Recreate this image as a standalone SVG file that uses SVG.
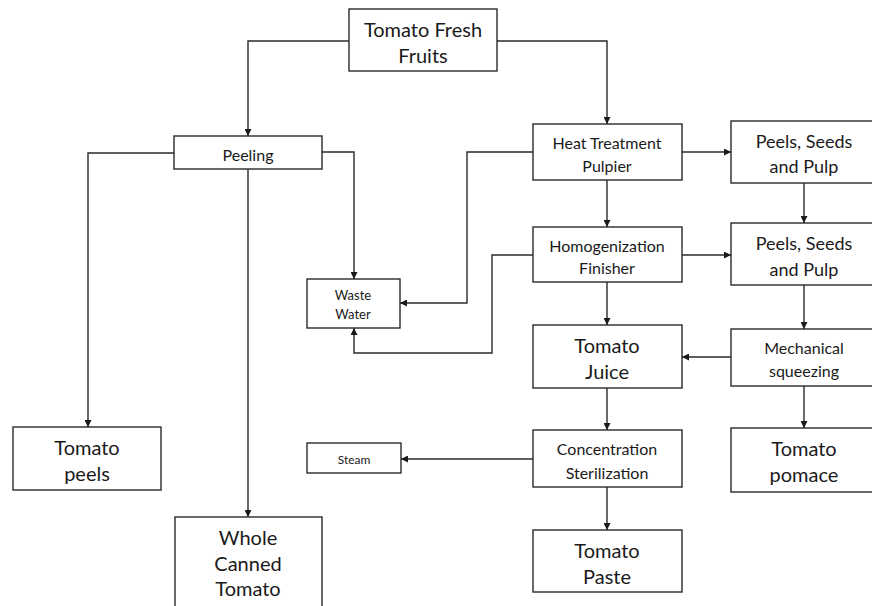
<svg xmlns="http://www.w3.org/2000/svg" width="872" height="606" viewBox="0 0 872 606">
  <defs>
    <style>
      .box { fill: #ffffff; stroke: #2a2a2a; stroke-width: 1.4; }
      .wire { fill: none; stroke: #2a2a2a; stroke-width: 1.4; }
      text { font-family: "Lato", "Open Sans", "Liberation Sans", sans-serif; fill: #1a1a1a; text-anchor: middle; dominant-baseline: central; }
      .xl { font-size: 20px; }
      .lg { font-size: 18px; }
      .md { font-size: 16px; }
      .sm { font-size: 13px; }
      .xs { font-size: 12px; }
    </style>
    <marker id="arrow" viewBox="0 0 10 10" refX="10" refY="5" markerWidth="7" markerHeight="7" markerUnits="userSpaceOnUse" orient="auto">
      <path d="M0,0 L10,5 L0,10 z" fill="#1a1a1a"/>
    </marker>
  </defs>
  <rect width="872" height="606" fill="#ffffff"/>

  <g id="connectors">
    <path class="wire" d="M349,41 H248 V136" marker-end="url(#arrow)"/>
    <path class="wire" d="M497,41 H607 V124" marker-end="url(#arrow)"/>
    <path class="wire" d="M174,153 H88 V427" marker-end="url(#arrow)"/>
    <path class="wire" d="M248,169 V517" marker-end="url(#arrow)"/>
    <path class="wire" d="M322,152 H354 V279" marker-end="url(#arrow)"/>
    <path class="wire" d="M533,152 H467 V303 H400" marker-end="url(#arrow)"/>
    <path class="wire" d="M533,255 H492 V353 H354 V328" marker-end="url(#arrow)"/>
    <path class="wire" d="M682,152 H731" marker-end="url(#arrow)"/>
    <path class="wire" d="M607,180 V227" marker-end="url(#arrow)"/>
    <path class="wire" d="M804,183 V223" marker-end="url(#arrow)"/>
    <path class="wire" d="M682,255 H731" marker-end="url(#arrow)"/>
    <path class="wire" d="M607,282 V325" marker-end="url(#arrow)"/>
    <path class="wire" d="M804,285 V329" marker-end="url(#arrow)"/>
    <path class="wire" d="M731,357 H682" marker-end="url(#arrow)"/>
    <path class="wire" d="M804,386 V428" marker-end="url(#arrow)"/>
    <path class="wire" d="M607,388 V430" marker-end="url(#arrow)"/>
    <path class="wire" d="M533,459 H401" marker-end="url(#arrow)"/>
    <path class="wire" d="M607,487 V530" marker-end="url(#arrow)"/>
  </g>

  <g id="fresh-fruits">
    <rect class="box" x="349" y="9" width="148" height="62"/>
    <text class="xl" x="423" y="29">Tomato Fresh</text>
    <text class="xl" x="423" y="55">Fruits</text>
  </g>

  <g id="peeling">
    <rect class="box" x="174" y="136" width="148" height="33"/>
    <text class="md" x="248" y="154">Peeling</text>
  </g>

  <g id="heat-treatment">
    <rect class="box" x="533" y="124" width="149" height="56"/>
    <text class="md" x="607" y="142">Heat Treatment</text>
    <text class="md" x="607" y="165">Pulpier</text>
  </g>

  <g id="peels-seeds-1">
    <rect class="box" x="731" y="121" width="150" height="62"/>
    <text class="lg" x="804" y="141">Peels, Seeds</text>
    <text class="lg" x="804" y="166">and Pulp</text>
  </g>

  <g id="homogenization">
    <rect class="box" x="533" y="227" width="149" height="55"/>
    <text class="md" x="607" y="245">Homogenization</text>
    <text class="md" x="607" y="267">Finisher</text>
  </g>

  <g id="peels-seeds-2">
    <rect class="box" x="731" y="223" width="150" height="62"/>
    <text class="lg" x="804" y="243">Peels, Seeds</text>
    <text class="lg" x="804" y="269">and Pulp</text>
  </g>

  <g id="waste-water">
    <rect class="box" x="307" y="279" width="93" height="49"/>
    <text class="sm" x="353" y="295">Waste</text>
    <text class="sm" x="353" y="314">Water</text>
  </g>

  <g id="tomato-juice">
    <rect class="box" x="533" y="325" width="149" height="63"/>
    <text class="xl" x="607" y="345">Tomato</text>
    <text class="xl" x="607" y="371">Juice</text>
  </g>

  <g id="mechanical-squeezing">
    <rect class="box" x="731" y="329" width="150" height="57"/>
    <text class="md" x="804" y="347">Mechanical</text>
    <text class="md" x="804" y="370">squeezing</text>
  </g>

  <g id="tomato-peels">
    <rect class="box" x="13" y="427" width="148" height="63"/>
    <text class="xl" x="87" y="447">Tomato</text>
    <text class="xl" x="87" y="473">peels</text>
  </g>

  <g id="steam">
    <rect class="box" x="307" y="443" width="94" height="30"/>
    <text class="xs" x="354" y="459">Steam</text>
  </g>

  <g id="concentration">
    <rect class="box" x="533" y="430" width="149" height="57"/>
    <text class="md" x="607" y="448">Concentration</text>
    <text class="md" x="607" y="472">Sterilization</text>
  </g>

  <g id="tomato-pomace">
    <rect class="box" x="731" y="428" width="150" height="64"/>
    <text class="xl" x="804" y="448">Tomato</text>
    <text class="xl" x="804" y="474">pomace</text>
  </g>

  <g id="whole-canned">
    <rect class="box" x="175" y="517" width="147" height="100"/>
    <text class="xl" x="248" y="537">Whole</text>
    <text class="xl" x="248" y="563">Canned</text>
    <text class="xl" x="248" y="588">Tomato</text>
  </g>

  <g id="tomato-paste">
    <rect class="box" x="533" y="530" width="149" height="62"/>
    <text class="xl" x="607" y="550">Tomato</text>
    <text class="xl" x="607" y="576">Paste</text>
  </g>
</svg>
